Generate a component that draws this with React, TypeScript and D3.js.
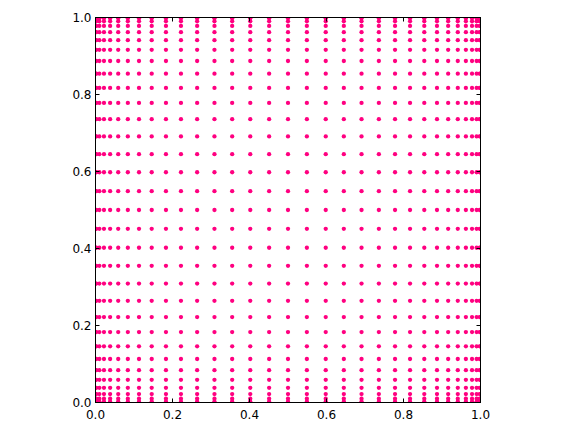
import React, { useEffect, useRef } from "react";
import * as d3 from "d3";

// grid node positions (same on both axes)
const xNodes = [0, 0.002, 0.010, 0.022, 0.038, 0.059, 0.084, 0.113, 0.146, 0.183, 0.222, 0.264, 0.309, 0.355, 0.402, 0.451, 0.5,
  0.549, 0.598, 0.645, 0.691, 0.736, 0.778, 0.817, 0.854, 0.887, 0.916, 0.941, 0.962, 0.978, 0.990, 0.998, 1];
const yNodes = [0, 0.002, 0.010, 0.022, 0.038, 0.059, 0.084, 0.113, 0.146, 0.183, 0.222, 0.264, 0.309, 0.355, 0.402, 0.451, 0.5,
  0.549, 0.598, 0.645, 0.691, 0.736, 0.778, 0.817, 0.854, 0.887, 0.916, 0.941, 0.962, 0.978, 0.990, 0.998, 1];
const tickValues = [0, 0.2, 0.4, 0.6, 0.8, 1.0];

function App() {
  const chartRef = useRef<SVGSVGElement | null>(null);

  useEffect(() => {
    if (!chartRef.current) return;
    const svg = d3.select(chartRef.current);
    svg.selectAll("*").remove();

    const left = 95.5, right = 480.5, top = 17.5, bottom = 402.5;
    const x = d3.scaleLinear().domain([0, 1]).range([left, right]);
    const y = d3.scaleLinear().domain([0, 1]).range([bottom, top]);

    svg.append("defs").append("clipPath").attr("id", "plotclip")
      .append("rect")
      .attr("x", left).attr("y", top)
      .attr("width", right - left).attr("height", bottom - top);

    const points: { x: number; y: number }[] = [];
    yNodes.forEach((yy) => xNodes.forEach((xx) => points.push({ x: xx, y: yy })));

    svg.append("g")
      .attr("clip-path", "url(#plotclip)")
      .selectAll("circle")
      .data(points)
      .enter()
      .append("circle")
      .attr("cx", (d) => x(d.x))
      .attr("cy", (d) => y(d.y))
      .attr("r", 2.15)
      .attr("fill", "#ff0080");

    // frame
    svg.append("rect")
      .attr("x", left).attr("y", top)
      .attr("width", right - left).attr("height", bottom - top)
      .attr("fill", "none")
      .attr("stroke", "black")
      .attr("stroke-width", 1);

    const tl = 4;
    const ticks = svg.append("g").attr("stroke", "black").attr("stroke-width", 1);
    tickValues.forEach((t) => {
      ticks.append("line").attr("x1", x(t)).attr("x2", x(t)).attr("y1", bottom).attr("y2", bottom - tl);
      ticks.append("line").attr("x1", x(t)).attr("x2", x(t)).attr("y1", top).attr("y2", top + tl);
      ticks.append("line").attr("y1", y(t)).attr("y2", y(t)).attr("x1", left).attr("x2", left + tl);
      ticks.append("line").attr("y1", y(t)).attr("y2", y(t)).attr("x1", right).attr("x2", right - tl);
    });

    const fmt = d3.format(".1f");
    svg.append("g")
      .selectAll("text")
      .data(tickValues)
      .enter()
      .append("text")
      .attr("x", (d) => x(d))
      .attr("y", bottom + 16)
      .attr("text-anchor", "middle")
      .attr("font-family", "DejaVu Sans")
      .attr("font-size", 12)
      .text((d) => fmt(d));

    svg.append("g")
      .selectAll("text")
      .data(tickValues)
      .enter()
      .append("text")
      .attr("x", left - 4)
      .attr("y", (d) => y(d))
      .attr("dy", "0.35em")
      .attr("text-anchor", "end")
      .attr("font-family", "DejaVu Sans")
      .attr("font-size", 12)
      .text((d) => fmt(d));
  }, []);

  return (
    <svg ref={chartRef} width={576} height={432}
      style={{ position: "absolute", left: 0, top: 0, background: "white" }}></svg>
  );
}

export default App;
